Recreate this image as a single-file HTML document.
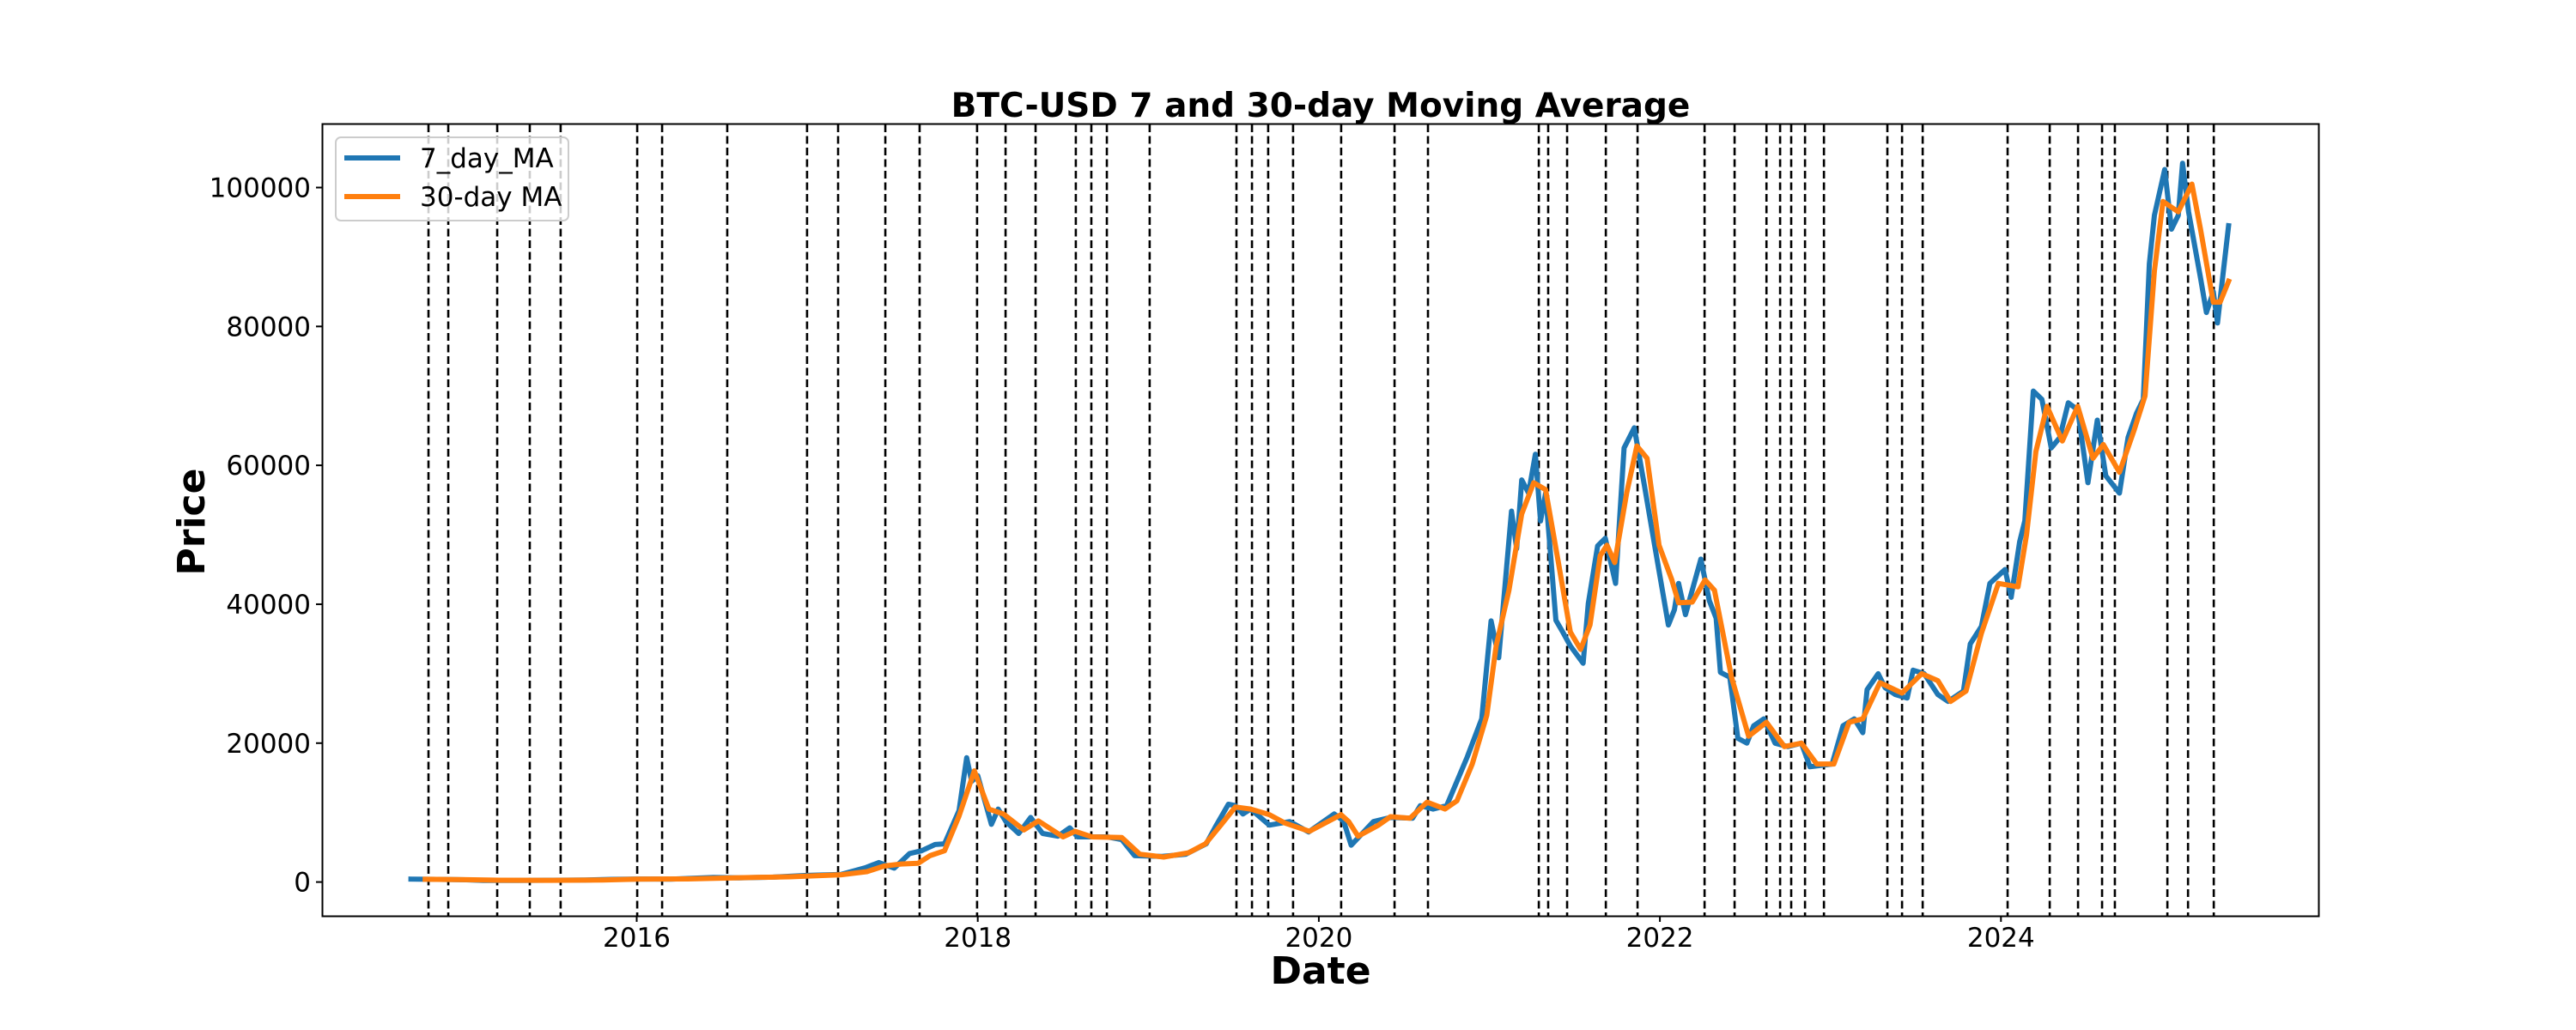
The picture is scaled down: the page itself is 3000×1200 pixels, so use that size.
<!DOCTYPE html>
<html><head><meta charset="utf-8"><style>
html,body{margin:0;padding:0;background:#fff;}
svg{display:block;font-family:"DejaVu Sans","Liberation Sans",sans-serif;}
</style></head><body>
<svg id="chart" width="3000" height="1200" viewBox="0 0 3000 1200">
<rect x="0" y="0" width="3000" height="1200" fill="#fff"/>
<text x="1538" y="136" font-size="39" font-weight="bold" text-anchor="middle">BTC-USD 7 and 30-day Moving Average</text>
<text x="1538" y="1146" font-size="44" font-weight="bold" text-anchor="middle">Date</text>
<text transform="translate(238,608) rotate(-90)" font-size="44" font-weight="bold" text-anchor="middle">Price</text>
<g id="vlines"></g>
<g id="series"></g>
<g id="ticks"></g>
<rect x="375.5" y="144.5" width="2325" height="923" fill="none" stroke="#000" stroke-width="2"/>
<g>
<rect x="391" y="160" width="271" height="97" rx="6" fill="#fff" fill-opacity="0.8" stroke="#ccc" stroke-width="2"/>
<line x1="401" y1="184" x2="466" y2="184" stroke="#1f77b4" stroke-width="6"/>
<text x="489" y="195" font-size="31">7_day_MA</text>
<line x1="401" y1="229" x2="466" y2="229" stroke="#ff7f0e" stroke-width="6"/>
<text x="489" y="240" font-size="31">30-day MA</text>
</g>
</svg>
<script>
const xTicks = [2016, 2018, 2020, 2022, 2024];
const yTicks = [0, 20000, 40000, 60000, 80000, 100000];
const eventDates = [2014.779,2014.895,2015.182,2015.373,2015.554,2016.003,2016.149,2016.531,2016.999,2017.181,2017.458,2017.659,2017.996,2018.163,2018.339,2018.575,2018.666,2018.757,2019.008,2019.517,2019.608,2019.703,2019.849,2020.131,2020.444,2020.640,2021.290,2021.345,2021.456,2021.683,2021.869,2022.262,2022.438,2022.625,2022.705,2022.770,2022.851,2022.962,2023.334,2023.420,2023.541,2024.039,2024.286,2024.452,2024.593,2024.668,2024.976,2025.097,2025.248];
const dates7 = [2014.676,2014.85,2015.0,2015.1,2015.3,2015.5,2015.7,2015.85,2016.0,2016.2,2016.45,2016.6,2016.8,2017.0,2017.2,2017.34,2017.42,2017.51,2017.6,2017.67,2017.75,2017.805,2017.89,2017.935,2017.964,2018.0,2018.08,2018.12,2018.165,2018.24,2018.31,2018.38,2018.47,2018.54,2018.585,2018.76,2018.845,2018.92,2019.08,2019.22,2019.34,2019.395,2019.47,2019.51,2019.555,2019.60,2019.71,2019.83,2019.94,2020.09,2020.145,2020.19,2020.32,2020.42,2020.55,2020.595,2020.67,2020.75,2020.87,2020.955,2021.01,2021.055,2021.13,2021.16,2021.19,2021.23,2021.27,2021.30,2021.33,2021.39,2021.43,2021.475,2021.55,2021.58,2021.635,2021.68,2021.74,2021.79,2021.85,2021.91,2021.97,2022.05,2022.085,2022.11,2022.15,2022.24,2022.29,2022.33,2022.355,2022.41,2022.457,2022.51,2022.55,2022.61,2022.675,2022.75,2022.83,2022.88,2023.01,2023.074,2023.14,2023.19,2023.215,2023.28,2023.32,2023.38,2023.45,2023.485,2023.55,2023.63,2023.69,2023.78,2023.82,2023.885,2023.935,2024.024,2024.06,2024.11,2024.14,2024.19,2024.24,2024.295,2024.345,2024.395,2024.45,2024.51,2024.565,2024.615,2024.695,2024.745,2024.795,2024.835,2024.87,2024.9,2024.96,2025.0,2025.04,2025.065,2025.1,2025.17,2025.205,2025.245,2025.27,2025.295,2025.335];
const values7 = [420,380,320,240,240,260,280,380,430,420,650,600,700,950,1100,2050,2800,2000,4100,4500,5400,5500,10300,17900,14500,15300,8300,10500,8700,7000,9300,7000,6600,7800,6500,6500,6100,3800,3700,4000,5500,8000,11200,11000,9800,10500,8200,8700,7200,9800,8800,5300,8700,9300,9200,11000,10500,11000,18000,23500,37600,32300,53400,48000,57900,56000,61600,52000,56000,37700,36000,34000,31500,40100,48400,49500,43000,62500,65400,57000,48400,37000,39200,43000,38500,46500,40500,38000,30200,29500,20700,20000,22500,23500,20000,19500,20000,16600,17000,22500,23500,21500,27700,30000,28000,27000,26500,30500,30000,27000,26000,27500,34300,36800,43000,45000,41000,49000,52000,70700,69500,62500,64000,69000,68000,57500,66500,58500,56000,64000,67500,69500,89000,96000,102600,94000,96000,103500,96500,87000,82000,85000,80500,86000,94500];
const dates30 = [2014.76,2015.0,2015.2,2015.5,2015.8,2016.0,2016.3,2016.6,2016.9,2017.2,2017.35,2017.45,2017.55,2017.65,2017.72,2017.805,2017.89,2017.98,2018.065,2018.15,2018.27,2018.355,2018.5,2018.57,2018.67,2018.845,2018.95,2019.09,2019.235,2019.335,2019.425,2019.51,2019.60,2019.71,2019.8,2019.945,2020.13,2020.175,2020.23,2020.35,2020.42,2020.535,2020.635,2020.74,2020.81,2020.9,2020.985,2021.04,2021.115,2021.19,2021.26,2021.33,2021.405,2021.475,2021.535,2021.59,2021.65,2021.69,2021.735,2021.805,2021.865,2021.925,2021.995,2022.07,2022.11,2022.19,2022.265,2022.32,2022.42,2022.52,2022.625,2022.73,2022.83,2022.92,2023.02,2023.11,2023.19,2023.29,2023.42,2023.535,2023.63,2023.705,2023.795,2023.885,2023.985,2024.1,2024.15,2024.205,2024.27,2024.36,2024.45,2024.54,2024.6,2024.695,2024.78,2024.845,2024.9,2024.95,2025.04,2025.12,2025.17,2025.245,2025.285,2025.335];
const values30 = [400,330,260,250,300,420,450,620,750,1050,1500,2300,2600,2700,3800,4500,9500,16000,10500,9800,7500,8800,6500,7300,6500,6400,4000,3600,4200,5500,8200,10800,10500,9700,8500,7300,9700,8700,6600,8200,9400,9200,11500,10500,11700,17000,24000,34000,42000,53000,57500,56500,46000,36000,33500,37000,47000,48500,46000,56000,62800,61000,48500,43500,40200,40300,43500,42000,29500,21000,23000,19500,20000,17000,17000,23000,23500,28700,27200,30000,29000,26000,27500,35800,43000,42500,50000,62000,68500,63500,68500,61000,63000,59000,65000,70000,88000,98000,96500,100500,94000,83500,83500,86500];

const NS = 'http://www.w3.org/2000/svg';
function xScale(yr){ return 741.5 + (yr - 2016) * 198.6; }
function yScale(v){ return 1027.6 - v * 0.008091; }
const svg = document.getElementById('chart');
const vg = document.getElementById('vlines');
const sg = document.getElementById('series');
const tg = document.getElementById('ticks');

eventDates.forEach(function(d){
  const l = document.createElementNS(NS,'line');
  const x = xScale(d);
  l.setAttribute('x1',x); l.setAttribute('x2',x);
  l.setAttribute('y1',145); l.setAttribute('y2',1067);
  l.setAttribute('stroke','#000'); l.setAttribute('stroke-width','2.6');
  l.setAttribute('stroke-dasharray','9,4.5');
  
  
  vg.appendChild(l);
});

function drawSeries(ds, vs, color, name){
  const p = document.createElementNS(NS,'path');
  let d = '';
  for (let i=0;i<ds.length;i++){ d += (i?'L':'M') + xScale(ds[i]).toFixed(1) + ',' + yScale(vs[i]).toFixed(1); }
  p.setAttribute('d', d);
  p.setAttribute('fill','none'); p.setAttribute('stroke',color);
  p.setAttribute('stroke-width','6'); p.setAttribute('stroke-linejoin','round'); p.setAttribute('stroke-linecap','square');
  
  
  sg.appendChild(p);
}
drawSeries(dates7, values7, '#1f77b4', 'line-7-day-ma');
drawSeries(dates30, values30, '#ff7f0e', 'line-30-day-ma');

xTicks.forEach(function(t){
  const x = xScale(t);
  const l = document.createElementNS(NS,'line');
  l.setAttribute('x1',x); l.setAttribute('x2',x); l.setAttribute('y1',1067); l.setAttribute('y2',1074);
  l.setAttribute('stroke','#000'); l.setAttribute('stroke-width','2');
  
  
  tg.appendChild(l);
  const tx = document.createElementNS(NS,'text');
  tx.setAttribute('x',x); tx.setAttribute('y',1103); tx.setAttribute('font-size','31'); tx.setAttribute('text-anchor','middle');
  tx.textContent = String(t);
  
  
  tg.appendChild(tx);
});
yTicks.forEach(function(t){
  const y = yScale(t);
  const l = document.createElementNS(NS,'line');
  l.setAttribute('x1',368); l.setAttribute('x2',375.5); l.setAttribute('y1',y); l.setAttribute('y2',y);
  l.setAttribute('stroke','#000'); l.setAttribute('stroke-width','2');
  
  
  tg.appendChild(l);
  const tx = document.createElementNS(NS,'text');
  tx.setAttribute('x',362); tx.setAttribute('y',y+11); tx.setAttribute('font-size','31'); tx.setAttribute('text-anchor','end');
  tx.textContent = String(t);
  
  
  tg.appendChild(tx);
});
</script>
</body></html>
